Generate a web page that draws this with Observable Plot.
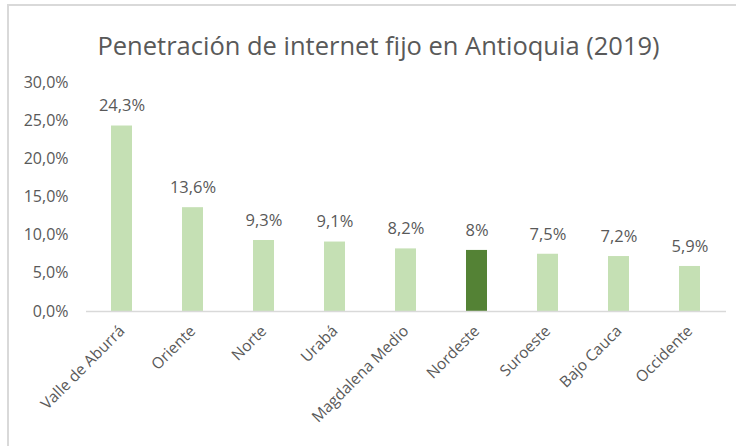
<!DOCTYPE html>
<html>
<head>
<meta charset="utf-8">
<script src="https://cdn.jsdelivr.net/npm/d3@7"></script>
<script src="https://cdn.jsdelivr.net/npm/@observablehq/plot@0.6"></script>
<style>
  html, body { margin: 0; padding: 0; background: #fff; }
  #wrap { position: relative; width: 736px; height: 446px; overflow: hidden; }
  #border { position: absolute; left: 7px; top: 4px; width: 740px; height: 460px; border: 2px solid #d9d9d9; box-sizing: border-box; pointer-events: none; }
  svg { display: block; }
</style>
</head>
<body>
<div id="wrap"><div id="border"></div></div>
<script>
const regions = ["Valle de Aburrá", "Oriente", "Norte", "Urabá", "Magdalena Medio", "Nordeste", "Suroeste", "Bajo Cauca", "Occidente"];
const penetration = [24.3, 13.6, 9.3, 9.1, 8.2, 8.0, 7.5, 7.2, 5.9];
const valueLabels = ["24,3%", "13,6%", "9,3%", "9,1%", "8,2%", "8%", "7,5%", "7,2%", "5,9%"];
const highlighted = ["Nordeste"];
const yTicks = [0, 5, 10, 15, 20, 25, 30];
const yTickLabels = ["0,0%", "5,0%", "10,0%", "15,0%", "20,0%", "25,0%", "30,0%"];
const title = "Penetración de internet fijo en Antioquia (2019)";

const data = regions.map((r, i) => ({region: r, value: penetration[i], label: valueLabels[i], hl: highlighted.includes(r)}));
const font = "'Open Sans', sans-serif";

const chart = Plot.plot({
  width: 736,
  height: 446,
  marginLeft: 86,
  marginRight: 10,
  marginTop: 82,
  marginBottom: 135,
  style: {fontFamily: font, color: "#595959", background: "white"},
  x: {domain: regions, paddingInner: 0.7, paddingOuter: 0.35, label: null},
  y: {domain: [0, 30], label: null},
  marks: [
    Plot.barY(data, {x: "region", y: "value", fill: d => d.hl ? "#548235" : "#c5e0b4"}),
    Plot.ruleY([0], {stroke: "#d9d9d9", strokeWidth: 1.5}),
    Plot.text(data, {x: "region", y: "value", text: "label", dy: -20, fontSize: 16.5, fill: "#595959"}),
    Plot.axisY({ticks: yTicks, tickFormat: d => yTickLabels[yTicks.indexOf(d)], tickSize: 0, tickPadding: 18, fontSize: 16, label: null, fill: "#595959"}),
    Plot.axisX({tickRotate: -45, tickSize: 0, tickPadding: 17, fontSize: 15.5, label: null, fill: "#595959"}),
    Plot.text([title], {frameAnchor: "top", dx: -28, dy: -46, fontSize: 25.5, fill: "#595959"})
  ]
});
document.getElementById("wrap").prepend(chart);
</script>
</body>
</html>
